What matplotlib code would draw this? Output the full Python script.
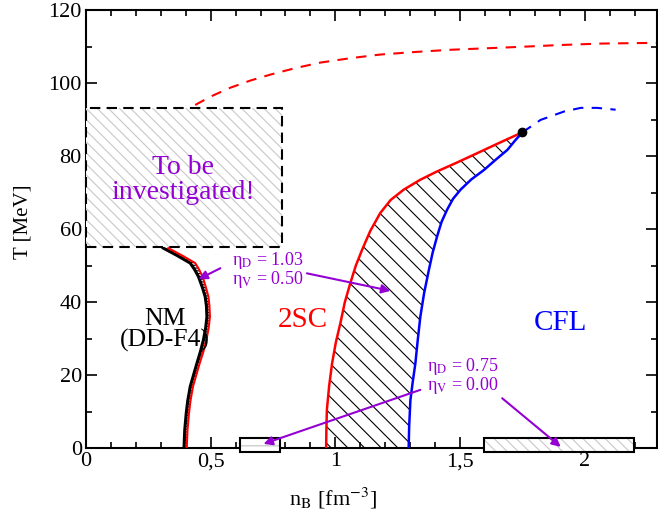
import numpy as np
import matplotlib
matplotlib.use("Agg")
import matplotlib.pyplot as plt
from matplotlib.patches import Rectangle, Polygon

plt.rcParams['font.family'] = ['Liberation Serif', 'DejaVu Serif']
plt.rcParams['mathtext.fontset'] = 'stix'
plt.rcParams['hatch.linewidth'] = 0.8

PURPLE = '#9400D3'

# red dashed upper line
up_x = [0.438, 0.5, 0.578, 0.66, 0.739, 0.84, 0.94, 1.06, 1.18, 1.32, 1.46, 1.6, 1.74, 1.9, 2.06, 2.285]
up_T = [94.0, 96.3, 98.7, 100.7, 102.3, 104.1, 105.6, 106.8, 107.8, 108.5, 109.1, 109.5, 109.9, 110.4, 110.8, 111.0]

# NM (DD-F4) boundary, black and red
nm_T = [54.8, 52.8, 50.7, 49.0, 47.0, 44.0, 41.5, 39.0, 36.0, 33.0, 29.7, 26.5, 23.3, 20.0, 16.9, 13.0, 9.6, 5.0, 0.0]
nm_x = [0.31, 0.365, 0.418, 0.435, 0.451, 0.467, 0.478, 0.483, 0.485, 0.48, 0.471, 0.459,
        0.445, 0.431, 0.418, 0.408, 0.402, 0.396, 0.393]
nm_red_x = [0.33, 0.385, 0.438, 0.453, 0.468, 0.481, 0.491, 0.495, 0.497, 0.492, 0.483, 0.471,
            0.456, 0.442, 0.429, 0.419, 0.413, 0.407, 0.404]

# 2SC (red) and CFL (blue) boundaries
sc_T = [0.0, 5.0, 10.5, 17.0, 23.3, 29.0, 34.2, 40.0, 45.2, 50.0, 54.3, 59.5, 64.4, 68.0,
        70.8, 73.5, 75.8, 78.3, 80.8, 83.7, 86.5]
sc_x = [0.963, 0.964, 0.966, 0.975, 0.987, 1.002, 1.02, 1.038, 1.06, 1.082, 1.107, 1.14,
        1.18, 1.222, 1.274, 1.34, 1.408, 1.49, 1.569, 1.66, 1.75]
cfl_T = [0.0, 6.0, 13.2, 18.0, 23.3, 30.0, 36.1, 42.5, 48.8, 53.5, 58.0, 62.0, 65.3, 68.3,
         70.8, 73.6, 76.2, 79.0, 81.7, 84.2, 86.5]
cfl_x = [1.294, 1.296, 1.301, 1.31, 1.321, 1.331, 1.341, 1.356, 1.375, 1.39, 1.408, 1.426,
         1.448, 1.472, 1.502, 1.545, 1.596, 1.643, 1.69, 1.72, 1.75]

# blue dashed continuation
cfl_dash_x = [1.75, 1.823, 1.917, 1.984, 2.05, 2.124]
cfl_dash_T = [86.5, 89.9, 92.2, 93.2, 93.2, 92.7]

crit_x, crit_T = 1.75, 86.5

fig = plt.figure(figsize=(6.58, 5.2), dpi=100)
ax = fig.add_axes([0.1307, 0.1379, 0.8678, 0.8429])

# hatched regions
band = np.array(list(zip(nm_x + nm_red_x[::-1], nm_T + nm_T[::-1])))
ax.add_patch(Polygon(band, closed=True, facecolor='white', edgecolor='k',
                     hatch='------', lw=0, zorder=2))
area = np.array(list(zip(sc_x + cfl_x[::-1], sc_T + cfl_T[::-1])))
ax.add_patch(Polygon(area, closed=True, facecolor='none', edgecolor='k',
                     hatch='\\\\', lw=0, zorder=1))

ax.plot(up_x, up_T, color='red', lw=1.5, dashes=(5, 4))
ax.plot(nm_x, nm_T, color='k', lw=2.2, zorder=3)
ax.plot(nm_red_x, nm_T, color='red', lw=1.5, zorder=3)
ax.plot(sc_x, sc_T, color='red', lw=1.8, zorder=3)
ax.plot(cfl_x, cfl_T, color='blue', lw=1.8, zorder=3)
ax.plot(cfl_dash_x, cfl_dash_T, color='blue', lw=1.5, dashes=(5, 4))
ax.plot([crit_x], [crit_T], 'o', color='k', ms=6, zorder=4)

# "to be investigated" box
ax.add_patch(Rectangle((0.0, 55.2), 0.786, 38.0, facecolor='white',
                       edgecolor='#c8c8c8', hatch='\\\\\\', lw=0,
                       zorder=5, clip_on=False))
ax.add_patch(Rectangle((0.0, 55.2), 0.786, 38.0, facecolor='none',
                       edgecolor='k', ls=(0, (5, 3)), lw=1.5,
                       zorder=6, clip_on=False))
ax.text(0.39, 73.5, 'To be\ninvestigated!', color=PURPLE, fontsize=20,
        ha='center', va='center', linespacing=1.0, zorder=7)

# small boxes on the axis
ax.add_patch(Rectangle((0.618, -1.1), 0.161, 3.85, facecolor='white',
                       edgecolor='#c0c0c0', hatch='--', lw=0,
                       zorder=5, clip_on=False))
ax.add_patch(Rectangle((0.618, -1.1), 0.161, 3.85, facecolor='none',
                       edgecolor='k', lw=1.5, zorder=6, clip_on=False))
ax.add_patch(Rectangle((1.598, -1.1), 0.6, 4.0, facecolor='white',
                       edgecolor='#c8c8c8', hatch='\\\\\\', lw=0,
                       zorder=5, clip_on=False))
ax.add_patch(Rectangle((1.598, -1.1), 0.6, 4.0, facecolor='none',
                       edgecolor='k', lw=1.5, zorder=6, clip_on=False))

# phase labels
ax.text(0.317, 32.4, 'NM\n(DD-F4)', color='k', fontsize=18.5,
        ha='center', va='center', linespacing=0.95)
ax.text(0.871, 35.2, '2SC', color='red', fontsize=21, ha='center', va='center')
ax.text(1.904, 34.2, 'CFL', color='blue', fontsize=21, ha='center', va='center')

# annotations
ax.text(0.585, 48.9, 'η$_{\\rm D}$ = 1.03\nη$_{\\rm V}$ = 0.50',
        color=PURPLE, fontsize=13, ha='left', va='center', linespacing=0.85)
ax.text(1.368, 19.7, 'η$_{\\rm D}$ = 0.75\nη$_{\\rm V}$ = 0.00',
        color=PURPLE, fontsize=13, ha='left', va='center', linespacing=0.85)
arrows = [((0.539, 49.3), (0.451, 46.3)),
          ((0.886, 47.9), (1.221, 43.1)),
          ((1.341, 16.0), (0.712, 1.2)),
          ((1.669, 13.7), (1.904, 0.4))]
for tail, head in arrows:
    ax.annotate('', xy=head, xytext=tail, zorder=8,
                arrowprops=dict(arrowstyle='-|>', color=PURPLE, lw=1.5,
                                mutation_scale=13, shrinkA=0, shrinkB=0))

ax.set_xlim(0, 2.29)
ax.set_ylim(0, 120)
ax.set_xticks([0, 0.5, 1, 1.5, 2])
ax.set_xticklabels(['0', '0,5', '1', '1,5', '2'])
ax.set_xticks(np.arange(0.1, 2.29, 0.1), minor=True)
ax.set_yticks(np.arange(0, 121, 20))
ax.set_yticks(np.arange(10, 120, 20), minor=True)
ax.tick_params(which='both', direction='in', top=True, right=True,
               labelsize=16, width=1.2)
ax.tick_params(which='major', length=8, pad=3)
ax.tick_params(which='minor', length=4)
for s in ax.spines.values():
    s.set_linewidth(1.5)

ax.set_xlabel('n$_{\\rm B}$ [fm$^{-3}$]', fontsize=16)
ax.set_ylabel('T [MeV]', fontsize=15)
ax.xaxis.set_label_coords(0.433, -0.085)
ax.yaxis.set_label_coords(-0.093, 0.517)

fig.savefig('out.png', dpi=100)
